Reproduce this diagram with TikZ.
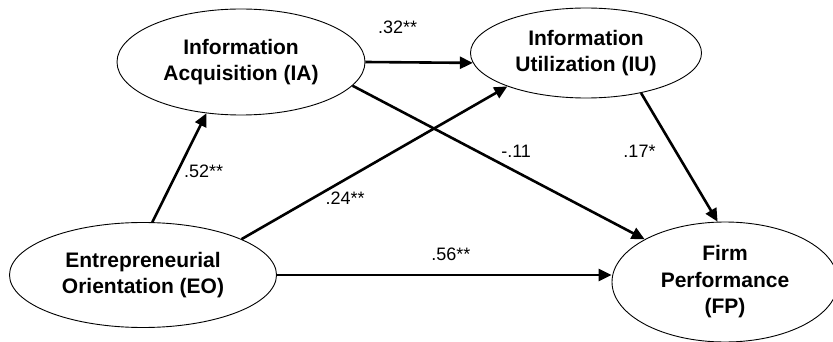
\documentclass[tikz,border=0pt]{standalone}
\usepackage{fontspec}
\setmainfont{Liberation Sans}
\usetikzlibrary{arrows.meta, shapes.geometric}

\begin{document}
\begin{tikzpicture}[x=1pt, y=-1pt,
    latent/.style={draw, ellipse, line width=0.9pt, inner sep=0pt, align=center, font=\fontsize{21}{26.5}\selectfont\bfseries},
    effect/.style={-{Triangle[length=13pt, width=12pt]}, line width=2.6pt},
    coef/.style={font=\fontsize{18}{21}\selectfont, inner sep=0pt}]
    \clip (0,0) rectangle (833,342);
    % Constructs
    \node[latent, minimum width=248pt, minimum height=106pt] (ia) at (241,62) {Information\\Acquisition (IA)};
    \node[latent, minimum width=231pt, minimum height=90pt] (iu) at (586,53) {Information\\Utilization (IU)};
    \node[latent, minimum width=267pt, minimum height=105pt] (eo) at (143,275) {Entrepreneurial\\Orientation (EO)};
    \node[latent, minimum width=226pt, minimum height=120pt] (fp) at (725,282) {Firm\\Performance\\(FP)};

    % Paths
    \draw[effect] (eo.80) -- node[coef, pos=0.47, xshift=26pt] {.52**} (ia.236);
    \draw[effect] (eo.20) -- node[coef, pos=0.39, yshift=-19pt] {.24**} (iu.203);
    \draw[effect] (eo.east) -- node[coef, pos=0.52, yshift=21pt] {.56**} (eo.east -| fp.west);
    \draw[effect] (ia.east) -- node[coef, pos=0.3, yshift=35pt] {.32**} (iu.185);
    \draw[effect] (ia.348) -- node[coef, pos=0.56, yshift=20pt] {-.11} (fp.152);
    \draw[effect] (iu.324) -- node[coef, pos=0.45, xshift=-36pt] {.17*} (fp.97);
\end{tikzpicture}
\end{document}
